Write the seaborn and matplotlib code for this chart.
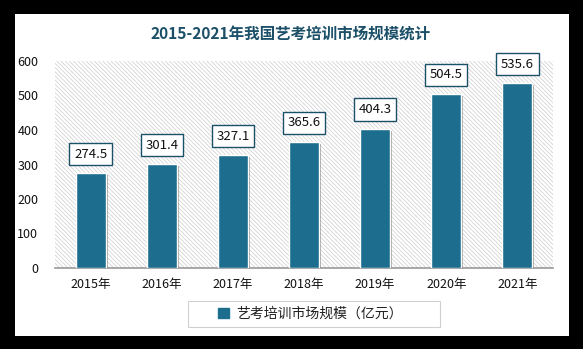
import matplotlib
matplotlib.use("Agg")
import matplotlib.pyplot as plt
import matplotlib.patheffects as pe
from matplotlib.patches import Rectangle
import seaborn as sns
import pandas as pd

years = ["2015年", "2016年", "2017年", "2018年", "2019年", "2020年", "2021年"]
values = [274.5, 301.4, 327.1, 365.6, 404.3, 504.5, 535.6]
series_name = "艺考培训市场规模（亿元）"
title = "2015-2021年我国艺考培训市场规模统计"

sns.set_style("white")
plt.rcParams["font.family"] = ["Noto Sans CJK SC", "DejaVu Sans"]
plt.rcParams["hatch.linewidth"] = 0.5
plt.rcParams["hatch.color"] = "#cccccc"

BAR = "#1d6e8e"
TEAL = "#1b5068"

df = pd.DataFrame({"year": years, "value": values, "series": series_name})

fig = plt.figure(figsize=(5.83, 3.49), dpi=100, facecolor="black")
panel = Rectangle((15 / 583, 13 / 349), 554 / 583, 322 / 349,
                  transform=fig.transFigure, facecolor="white", edgecolor="none", zorder=-10)
fig.patches.append(panel)

ax = fig.add_axes([55 / 583, (349 - 268) / 349, 498 / 583, 207 / 349])
ax.set_zorder(1)
ax.set_facecolor("white")
bg = Rectangle((0, 0), 1, 1, transform=ax.transAxes, facecolor="white",
               edgecolor="#cccccc", hatch="\\" * 8, linewidth=0, zorder=0)
ax.add_patch(bg)

sns.barplot(data=df, x="year", y="value", hue="series", palette=[BAR], width=0.42,
            saturation=1, ax=ax, zorder=3, legend=True)
for p in ax.patches:
    if p is bg:
        continue
    p.set_path_effects([pe.SimplePatchShadow(offset=(1.5, -1.5), shadow_rgbFace="#555555", alpha=0.5),
                        pe.Normal()])

for i, v in enumerate(values):
    ax.annotate(f"{v}", xy=(i, v), xytext=(0, 9), textcoords="offset points",
                ha="center", va="bottom", fontsize=9.5, color="#111111",
                bbox=dict(boxstyle="square,pad=0.35", fc="white", ec=TEAL, lw=1.0), zorder=5)

ax.set_ylim(0, 600)
ax.set_yticks(range(0, 601, 100))
ax.set_xlim(-0.5, 6.5)
ax.set_xlabel("")
ax.set_ylabel("")
for s in ["top", "right", "left"]:
    ax.spines[s].set_visible(False)
ax.spines["bottom"].set_color("#999999")
ax.spines["bottom"].set_linewidth(1.2)
ax.tick_params(axis="y", labelsize=9, length=0, pad=12, colors="#111111")
ax.tick_params(axis="x", labelsize=9, length=0, pad=7, colors="#111111")

handles, labels = ax.get_legend_handles_labels()
ax.get_legend().remove()
legbox = Rectangle((188 / 583, (349 - 327) / 349), 252 / 583, 26 / 349,
                   transform=fig.transFigure, facecolor="white", edgecolor="#d0d0d0",
                   linewidth=0.8, zorder=2)
fig.patches.append(legbox)
leg = fig.legend(handles, labels, loc="center", bbox_to_anchor=(310 / 583, (349 - 314) / 349),
                 frameon=False, fontsize=10, handlelength=0.8, handleheight=0.8,
                 handletextpad=0.5)
leg.set_zorder(3)
for h in leg.legend_handles:
    h.set_edgecolor(BAR)
    h.set_path_effects([])
for t in leg.get_texts():
    t.set_color("#222222")

fig.text(291 / 583, (349 - 34) / 349, title, ha="center", va="center", fontsize=11.2,
         fontweight="bold", color=TEAL)

fig.savefig("out.png", dpi=100, facecolor="black")
